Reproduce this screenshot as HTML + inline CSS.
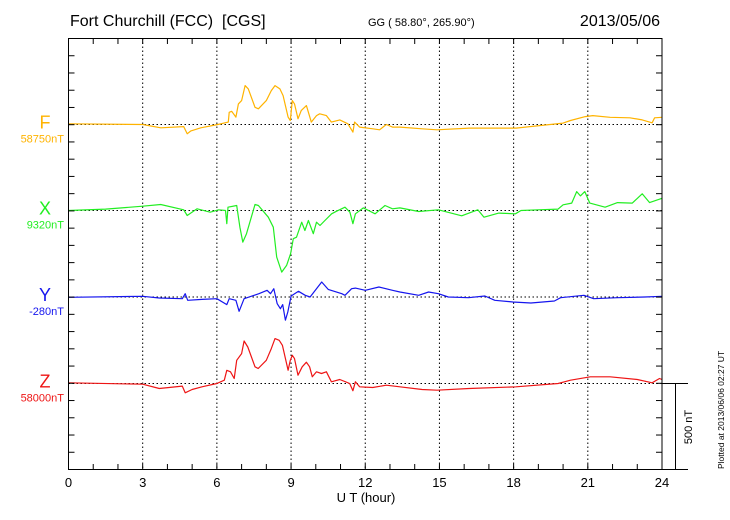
<!DOCTYPE html>
<html><head><meta charset="utf-8"><style>
html,body{margin:0;padding:0;background:#fff;}
svg{display:block;font-family:"Liberation Sans",sans-serif;}
</style></head><body>
<svg id="chart" width="730" height="520" viewBox="0 0 730 520">
<text x="70" y="26" font-size="16" xml:space="preserve">Fort Churchill (FCC)  [CGS]</text>
<text x="368" y="26" font-size="11">GG ( 58.80°, 265.90°)</text>
<text x="660" y="26" font-size="16" text-anchor="end">2013/05/06</text>
<g id="grid"></g>
<g id="series"></g>
<rect x="68.5" y="38.5" width="593.5" height="431" fill="none" stroke="#000" stroke-width="1"/>
<g id="axes"></g>
<text x="366" y="502" font-size="13" text-anchor="middle">U T (hour)</text>
<line x1="662" y1="383.5" x2="688" y2="383.5" stroke="#000"/>
<line x1="662" y1="469.5" x2="688" y2="469.5" stroke="#000"/>
<line x1="675.5" y1="383.5" x2="675.5" y2="469.5" stroke="#000"/>
<text transform="translate(692,427) rotate(-90)" font-size="11" text-anchor="middle">500 nT</text>
<text transform="translate(724,469) rotate(-90)" font-size="8.5">Plotted at 2013/06/06 02:27 UT</text>
</svg>
<script>
const xTicks = [0,3,6,9,12,15,18,21,24];
const seriesNames = ["F","X","Y","Z"];
const baseLabels = ["58750nT","9320nT","-280nT","58000nT"];
const colors = ["#ffb300","#22ee22","#1515ee","#ee1515"];
const tF = [0,3,3.73,4.66,4.8,4.95,5.35,6.04,6.46,6.5,6.6,6.77,6.87,7.0,7.14,7.27,7.54,7.68,8.0,8.2,8.35,8.55,8.68,8.88,8.97,9.05,9.14,9.28,9.41,9.62,9.82,10.03,10.16,10.43,10.63,10.97,11.3,11.5,11.57,11.77,12.31,12.58,12.85,13.1,13.4,14.3,14.9,16.2,18.1,19.1,20,20.3,20.9,21.2,21.9,22.7,23.2,23.6,23.7,24];
const vF = [4,0,-19,-12,-54,-37,-19,0,14,71,77,43,120,139,226,207,100,91,139,197,226,207,168,43,23,139,120,33,81,110,14,52,62,52,14,27,4,-44,14,-15,-25,-31,0,-15,-15,-25,-31,-21,-21,-6,8,23,46,52,42,39,27,10,39,42];
const tX = [0,1.5,3,3.73,4.66,4.8,5.2,5.73,6.07,6.35,6.4,6.45,6.8,6.93,7.05,7.2,7.54,7.68,8.08,8.28,8.42,8.62,8.82,8.98,9.09,9.22,9.43,9.56,9.7,9.9,10.03,10.17,10.37,10.64,10.84,11.18,11.38,11.5,11.6,11.92,12.4,12.8,13.1,13.4,14.16,14.96,15.9,16.55,16.8,17.4,18.07,18.3,19,19.8,20,20.35,20.55,20.7,20.88,21.08,21.7,22.2,22.8,23.2,23.5,24];
const vX = [0,8,25,35,4,-29,10,-10,4,0,-77,19,29,-97,-184,-135,35,29,-39,-97,-271,-358,-319,-251,-164,-155,-68,-116,-58,-135,-68,-87,-58,-19,-4,19,-10,-77,-19,15,-19,29,10,15,-6,4,-31,4,-39,-15,-19,0,4,8,33,43,110,85,110,43,19,46,43,97,46,71];
const tY = [0,3,3.67,4.6,4.72,4.82,5.4,6.0,6.4,6.5,6.77,6.9,7.1,7.7,8.03,8.17,8.3,8.44,8.57,8.66,8.77,8.87,9.0,9.3,9.57,9.77,10.24,10.5,11.05,11.18,11.45,11.6,12.0,12.55,13.1,13.4,14.16,14.56,14.96,15.36,16.17,16.84,17.24,17.97,18.7,19.65,19.9,20.84,21.24,22.2,23.3,24];
const vY = [-2,4,-6,-10,19,-19,-14,-10,-44,-10,-19,-83,-10,19,39,19,48,-39,-68,-44,-135,-87,6,33,10,0,87,44,19,10,48,52,39,58,39,29,10,29,19,0,-4,6,-19,-29,-35,-23,-4,10,-10,-4,0,4];
const tZ = [0,3,3.67,4.6,4.72,5.0,5.4,6.0,6.3,6.4,6.55,6.7,6.8,7.0,7.1,7.25,7.54,7.67,8.0,8.2,8.35,8.52,8.65,8.88,8.97,9.05,9.14,9.28,9.45,9.62,9.75,9.86,10.03,10.23,10.43,10.63,10.97,11.37,11.5,11.6,11.77,12.3,12.85,13.4,14.3,14.9,16.2,18.1,19.8,20.3,21.1,21.9,23,23.6,23.9,24];
const vZ = [4,-4,-29,-15,-54,-35,-19,0,19,77,68,29,135,174,247,212,97,87,135,203,261,251,222,77,135,164,145,48,97,124,97,39,68,58,68,10,23,0,-42,10,-19,-23,-10,-19,-35,-39,-29,-19,0,19,39,39,23,4,29,23];
const times = [tF,tX,tY,tZ];
const values = [vF,vX,vY,vZ];

const NS="http://www.w3.org/2000/svg";
const X0=68.5, X1=662, baseY=[124.5,210.5,297,383.5], pxPerNT=86/500;
function xs(h){return X0+(X1-X0)*h/24;}
function ys(i,v){return baseY[i]-v*pxPerNT;}
function mk(tag,attrs,parent){const e=document.createElementNS(NS,tag);for(const k in attrs)e.setAttribute(k,attrs[k]);parent.appendChild(e);return e;}
const grid=document.getElementById('grid'), axes=document.getElementById('axes'), ser=document.getElementById('series');
xTicks.forEach((h,i)=>{
  if(h>0&&h<24){
    const g=mk('line',{x1:xs(h),x2:xs(h),y1:38.5,y2:469.5,stroke:'#000','stroke-dasharray':'1.5,2.5','stroke-width':1},grid);
    
    
  }
  const t=mk('text',{x:xs(h),y:487,'font-size':13,'text-anchor':'middle'},axes);
  t.textContent=h;
  
  
});
for(let h=1;h<24;h++){
  const a=mk('line',{x1:xs(h),x2:xs(h),y1:38.5,y2:44,stroke:'#000'},axes);
  
  
  const b=mk('line',{x1:xs(h),x2:xs(h),y1:464,y2:469.5,stroke:'#000'},axes);
  
  
}
for(let k=1;k<25;k++){
  const y=38.5+k*86.2/5;
  const a=mk('line',{x1:X0,x2:X0+6,y1:y,y2:y,stroke:'#000'},axes);
  
  
  const b=mk('line',{x1:X1-6,x2:X1,y1:y,y2:y,stroke:'#000'},axes);
  
  
}
seriesNames.forEach((n,i)=>{
  const bl=mk('line',{x1:X0,x2:X1,y1:baseY[i],y2:baseY[i],stroke:'#000','stroke-dasharray':'1.5,2.5'},grid);
  
  
  const lab=mk('text',{x:45,y:baseY[i]+4,'font-size':18,'text-anchor':'middle',fill:colors[i]},axes);
  lab.textContent=n;
  
  
  const bv=mk('text',{x:64,y:baseY[i]+18,'font-size':11,'text-anchor':'end',fill:colors[i]},axes);
  bv.textContent=baseLabels[i];
  
  
  const pts=times[i].map((h,j)=>xs(h).toFixed(1)+','+ys(i,values[i][j]).toFixed(1)).join(' ');
  const pl=mk('polyline',{points:pts,fill:'none',stroke:colors[i],'stroke-width':1.2,'stroke-linejoin':'round'},ser);
  
  
});
</script>
</body></html>
